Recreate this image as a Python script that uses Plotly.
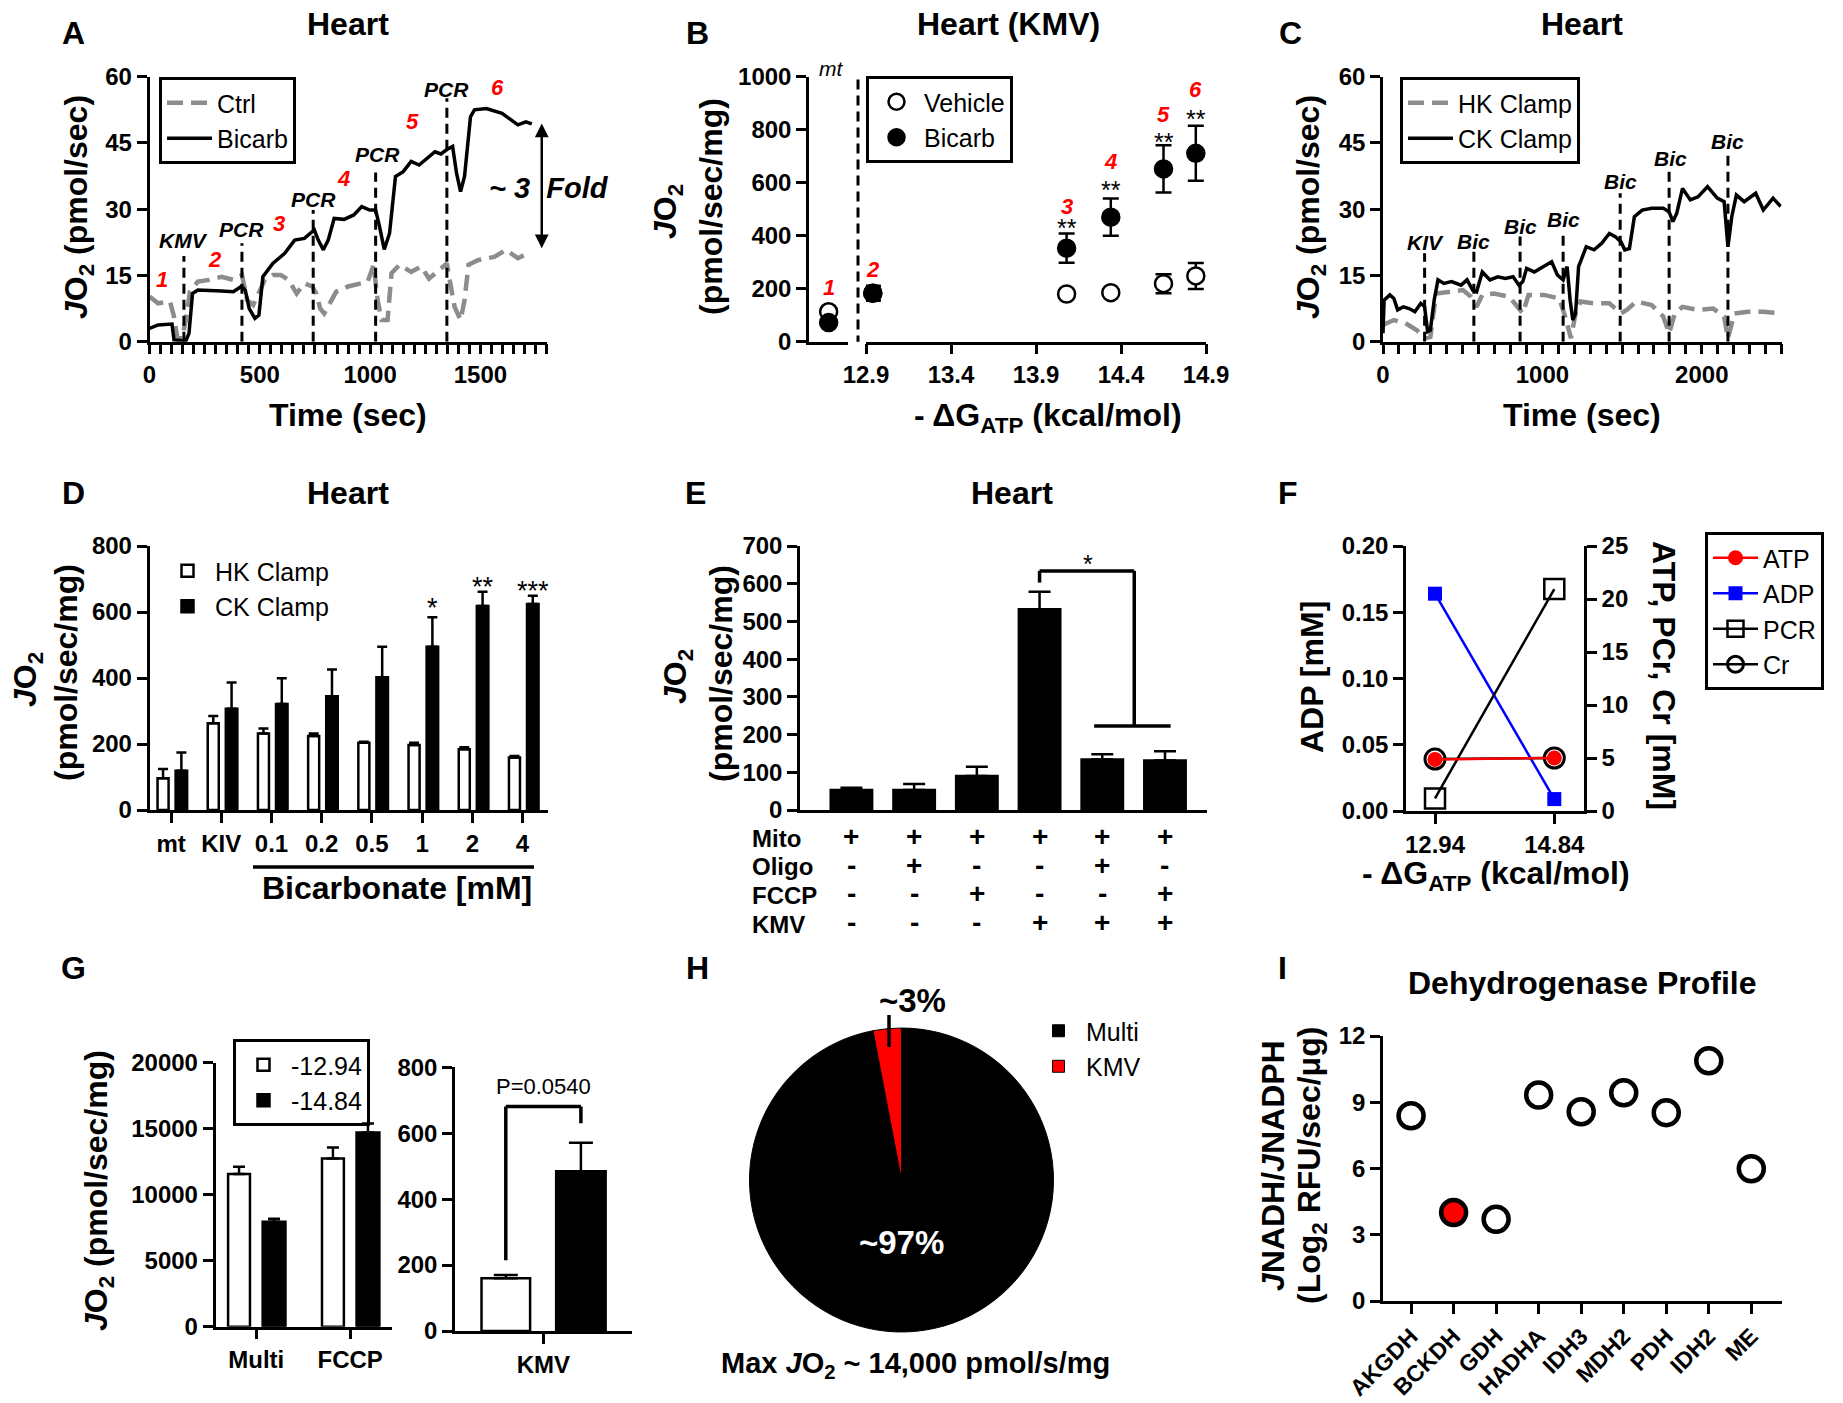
import plotly.graph_objects as go

W, H = 1843, 1403
FONT = "Arial, 'Liberation Sans', Helvetica, sans-serif"
GRAY = "#8c8c8c"


def px(x):
    return x / W


def py(y):
    return 1 - y / H


# ---------------- DATA ----------------
# A: oxygen flux traces (time in s, JO2 in pmol/s)
a_ctrl_t = [0, 39, 93, 111, 125, 147, 165, 183, 219, 272, 326, 380, 419, 443, 470, 496, 523, 559, 595, 631,
            667, 702, 738, 756, 774, 792, 819, 846, 900, 953, 989, 1016, 1034, 1052, 1079, 1097, 1133, 1186,
            1231, 1267, 1303, 1348, 1366, 1383, 1410, 1428, 1446, 1491, 1563, 1616, 1670, 1715]
a_ctrl = [10.2, 8.7, 9.1, 5.7, 1.1, 0.8, 4.9, 11.3, 13.6, 14.0, 14.7, 14.0, 15.1, 9.4, 8.3, 10.9, 14.0, 15.1,
          15.1, 14.0, 10.9, 13.2, 12.5, 10.9, 7.5, 6.4, 8.7, 11.3, 12.5, 13.2, 13.6, 17.4, 9.4, 4.9, 4.9, 15.5,
          17.4, 15.8, 17.0, 14.3, 15.8, 17.7, 12.5, 7.9, 4.9, 9.4, 17.4, 18.5, 19.2, 20.8, 18.9, 20.0]
a_bicarb_t = [0, 39, 102, 111, 165, 179, 195, 219, 326, 380, 416, 434, 452, 478, 496, 514, 559, 613, 658, 702,
              747, 765, 788, 810, 837, 882, 926, 962, 998, 1025, 1043, 1064, 1088, 1115, 1150, 1186, 1222, 1258,
              1294, 1321, 1348, 1374, 1392, 1410, 1428, 1455, 1473, 1527, 1598, 1670, 1706, 1733]
a_bicarb = [3.0, 3.8, 4.0, 0.4, 0.2, 1.9, 10.9, 11.7, 11.5, 11.3, 12.5, 11.7, 7.5, 5.3, 6.0, 14.7, 17.7, 20.0,
            23.0, 23.4, 25.3, 23.0, 20.8, 23.0, 27.9, 27.7, 28.7, 30.6, 29.8, 29.8, 26.0, 20.9, 24.5, 37.4, 38.5,
            40.8, 40.0, 41.5, 43.0, 42.5, 43.5, 44.2, 38.1, 34.0, 37.4, 50.9, 52.5, 52.8, 51.7, 49.1, 49.8, 49.3]
a_event_t = [156, 419, 742, 1025, 1348]
a_event_lbl = ["KMV", "PCR", "PCR", "PCR", "PCR"]
a_event_top = [19.4, 22.3, 29.8, 38.3, 55.1]
a_event_lbl_pos = [(156, 22.8), (419, 25.4), (742, 32.2), (1034, 42.4), (1348, 57.2)]
a_state_lbl = ["1", "2", "3", "4", "5", "6"]
a_state_pos = [(57, 14.0), (299, 18.5), (586, 26.8), (878, 37.0), (1190, 49.8), (1577, 57.6)]
a_fold = [20.8, 49.4]

# B: JO2 vs -dG_ATP
b_mt = ["mt"]
b_mt_vehicle = [113]
b_mt_bicarb = [72]
b_dg = [12.94, 14.08, 14.34, 14.65, 14.84]
b_vehicle = [183, 180, 185, 219, 248]
b_vehicle_sem = [25, 0, 0, 36, 49]
b_bicarb = [183, 353, 470, 652, 711]
b_bicarb_sem = [28, 55, 70, 89, 104]
b_state_lbl = ["2", "3", "4", "5", "6"]
b_state_y = [272, 510, 681, 858, 950]
b_sig = ["", "**", "**", "**", "**"]
b_sig_y = [0, 428, 572, 755, 841]

# C: HK vs CK clamp traces
c_ck_t = [0, 7, 43, 68, 92, 128, 164, 200, 237, 261, 280, 297, 321, 345, 382, 430, 490, 527, 563, 587, 623, 671,
          720, 768, 816, 853, 877, 901, 949, 1010, 1058, 1094, 1130, 1155, 1174, 1191, 1208, 1227, 1275, 1324, 1372,
          1420, 1457, 1493, 1517, 1546, 1577, 1626, 1686, 1758, 1795, 1819, 1843, 1879, 1928, 1976, 2036, 2097,
          2140, 2164, 2188, 2217, 2266, 2338, 2386, 2447, 2495]
c_ck = [1.9, 9.4, 10.6, 9.8, 7.2, 7.9, 7.5, 6.8, 8.7, 7.9, 2.3, 2.6, 9.4, 14.0, 13.2, 13.6, 12.8, 14.0, 11.7, 11.3,
        15.8, 14.0, 14.7, 14.3, 14.7, 12.8, 13.6, 16.6, 15.8, 17.0, 18.1, 15.1, 14.0, 17.0, 9.4, 4.9, 6.4, 17.0,
        21.5, 20.8, 22.3, 24.5, 23.8, 22.6, 20.8, 21.1, 28.3, 29.8, 30.2, 30.2, 29.4, 27.2, 29.1, 34.7, 32.1, 32.8,
        35.1, 32.5, 31.7, 21.5, 28.3, 33.2, 31.7, 33.6, 29.8, 32.5, 30.6]
c_hk_t = [0, 68, 140, 213, 261, 297, 333, 406, 502, 551, 587, 623, 696, 792, 841, 877, 913, 1010, 1106, 1143, 1179,
          1208, 1239, 1324, 1420, 1493, 1529, 1589, 1686, 1758, 1795, 1831, 1879, 1976, 2072, 2140, 2164, 2205,
          2290, 2386, 2495]
c_hk = [3.8, 4.9, 4.2, 2.6, 0.8, 1.1, 10.9, 11.3, 11.7, 10.2, 7.9, 10.6, 10.9, 10.2, 7.9, 6.4, 10.6, 10.6, 9.8,
        5.7, 0.8, 6.4, 9.1, 8.7, 8.7, 6.4, 7.2, 9.1, 8.3, 5.7, 1.9, 6.4, 7.9, 7.2, 7.5, 5.7, 0.8, 6.4, 6.8, 6.8,
        6.4]
c_event_t = [261, 570, 860, 1130, 1488, 1795, 2164]
c_event_lbl = ["KIV", "Bic", "Bic", "Bic", "Bic", "Bic", "Bic"]
c_event_top = [20.0, 20.4, 23.8, 24.2, 33.6, 38.9, 42.6]
c_event_lbl_pos = [(268, 22.5), (570, 22.7), (860, 26.1), (1130, 27.6), (1493, 36.3), (1802, 41.4), (2164, 45.4)]

# D: bicarbonate titration
d_cats = ["mt", "KIV", "0.1", "0.2", "0.5", "1", "2", "4"]
d_hk = [96, 263, 232, 224, 204, 197, 184, 159]
d_hk_sem = [28, 22, 15, 8, 3, 7, 6, 5]
d_ck = [119, 307, 321, 345, 402, 495, 618, 624]
d_ck_sem = [55, 79, 78, 81, 93, 89, 43, 25]
d_sig = ["", "", "", "", "", "*", "**", "***"]
d_sig_y = [0, 0, 0, 0, 0, 612, 675, 665]

# E: inhibitor conditions
e_vals = [53, 53, 90, 532, 134, 131]
e_sem = [6, 16, 25, 47, 14, 25]
e_rows = ["Mito", "Oligo", "FCCP", "KMV"]
e_mito = ["+", "+", "+", "+", "+", "+"]
e_oligo = ["-", "+", "-", "-", "+", "-"]
e_fccp = ["-", "-", "+", "-", "-", "+"]
e_kmv = ["-", "-", "-", "+", "+", "+"]

# F: metabolite concentrations
f_dg = [12.94, 14.84]
f_atp = [4.87, 5.0]
f_adp = [0.164, 0.009]
f_pcr = [1.19, 20.94]
f_cr = [4.9, 5.0]

# G: energetic clamps
g_cats = ["Multi", "FCCP"]
g_low = [11565, 12751]
g_low_sem = [555, 834]
g_high = [7954, 14720]
g_high_sem = [227, 683]
g_kmv_cat = ["KMV"]
g_kmv_low = [160]
g_kmv_low_sem = [10]
g_kmv_high = [485]
g_kmv_high_sem = [86]

# H: share of maximal JO2
h_labels = ["Multi", "KMV"]
h_vals = [97, 3]

# I: dehydrogenase profile
i_enz = ["AKGDH", "BCKDH", "GDH", "HADHA", "IDH3", "MDH2", "PDH", "IDH2", "ME"]
i_vals = [8.39, 4.01, 3.70, 9.33, 8.57, 9.43, 8.53, 10.88, 5.99]
i_highlight = "BCKDH"

# ---------------- FIGURE ----------------
fig = go.Figure()
annotations = []
shapes = []


def txt(text, x, y, size, bold=True, italic=False, color="black", xref="paper", yref="paper",
        angle=0, xanchor="center", yanchor="middle"):
    if xref == "paper":
        x = px(x)
    if yref == "paper":
        y = py(y)
    annotations.append(dict(text=text, x=x, y=y, xref=xref, yref=yref, showarrow=False, textangle=angle,
                            xanchor=xanchor, yanchor=yanchor,
                            font=dict(family=FONT, size=size, color=color,
                                      weight="bold" if bold else "normal",
                                      style="italic" if italic else "normal")))


def line_shape(x0, y0, x1, y1, xref, yref, width=3, dash=None):
    d = dict(type="line", x0=x0, y0=y0, x1=x1, y1=y1, xref=xref, yref=yref,
             line=dict(color="black", width=width))
    if dash:
        d["line"]["dash"] = dash
    shapes.append(d)


TICKFONT = dict(family=FONT, size=24, color="black", weight="bold")
TS = 32   # title size
AS = 32   # axis-title size


def axis(dom, anchor, **kw):
    d = dict(domain=dom, anchor=anchor, showline=True, linecolor="black", linewidth=2.5, ticks="outside",
             ticklen=10, tickwidth=2.5, tickcolor="black", showgrid=False, zeroline=False, tickfont=TICKFONT,
             fixedrange=True, automargin=False)
    d.update(kw)
    return d


EVT_DASH = "10px,6px"
GDASH = "16px,8px"
JO2 = "<i>J</i>O<sub>2</sub>"

# ----- A -----
fig.add_trace(go.Scatter(x=a_ctrl_t, y=a_ctrl, mode="lines", name="Ctrl",
                         line=dict(color=GRAY, width=4.5, dash=GDASH), xaxis="x", yaxis="y",
                         legend="legend", legendgroup="a1"))
fig.add_trace(go.Scatter(x=a_bicarb_t, y=a_bicarb, mode="lines", name="Bicarb",
                         line=dict(color="black", width=3.5), xaxis="x", yaxis="y",
                         legend="legend", legendgroup="a2"))
for t, top in zip(a_event_t, a_event_top):
    line_shape(t, 0, t, top, "x", "y", 3, EVT_DASH)
for lbl, (t, v) in zip(a_event_lbl, a_event_lbl_pos):
    txt(lbl, t, v, 21, True, True, xref="x", yref="y")
for lbl, (t, v) in zip(a_state_lbl, a_state_pos):
    txt(lbl, t, v, 22, True, True, color="red", xref="x", yref="y")
annotations.append(dict(x=1778, y=a_fold[1], ax=1778, ay=a_fold[0], xref="x", yref="y", axref="x", ayref="y",
                        text="", showarrow=True, arrowhead=2, arrowside="end+start", arrowsize=1.1,
                        arrowwidth=2.5, arrowcolor="black", standoff=0, startstandoff=0))
txt("~ 3  Fold", 549, 188, 29, True, True)

# ----- B -----
fig.add_trace(go.Scatter(x=b_mt, y=b_mt_vehicle, mode="markers", showlegend=False, cliponaxis=False,
                         marker=dict(symbol="circle", size=17, color="white", line=dict(color="black", width=2.5)),
                         xaxis="x2", yaxis="y2"))
fig.add_trace(go.Scatter(x=b_mt, y=b_mt_bicarb, mode="markers", showlegend=False, cliponaxis=False,
                         marker=dict(symbol="circle", size=17, color="black", line=dict(color="black", width=2.5)),
                         xaxis="x2", yaxis="y2"))
fig.add_trace(go.Scatter(x=b_dg, y=b_vehicle, mode="markers", name="Vehicle", cliponaxis=False,
                         marker=dict(symbol="circle", size=17, color="white", line=dict(color="black", width=2.5)),
                         error_y=dict(type="data", array=b_vehicle_sem, color="black", thickness=2.5, width=8),
                         xaxis="x3", yaxis="y2", legend="legend2", legendgroup="b1"))
fig.add_trace(go.Scatter(x=b_dg, y=b_bicarb, mode="markers", name="Bicarb", cliponaxis=False,
                         marker=dict(symbol="circle", size=17, color="black", line=dict(color="black", width=2.5)),
                         error_y=dict(type="data", array=b_bicarb_sem, color="black", thickness=2.5, width=8),
                         xaxis="x3", yaxis="y2", legend="legend2", legendgroup="b2"))
shapes.append(dict(type="line", xref="paper", yref="y2", x0=px(858), x1=px(858), y0=-14, y1=1000,
                   line=dict(color="black", width=3, dash=EVT_DASH)))
txt("mt", 831, 68, 21, False, True)
txt("1", 0, 206, 22, True, True, color="red", xref="x2", yref="y2")
for lbl, x, y in zip(b_state_lbl, b_dg, b_state_y):
    txt(lbl, x, y, 22, True, True, color="red", xref="x3", yref="y2")
for s, x, y in zip(b_sig, b_dg, b_sig_y):
    if s:
        txt(s, x, y, 25, False, xref="x3", yref="y2")

# ----- C -----
fig.add_trace(go.Scatter(x=c_hk_t, y=c_hk, mode="lines", name="HK Clamp",
                         line=dict(color=GRAY, width=4.5, dash=GDASH), xaxis="x4", yaxis="y4",
                         legend="legend3", legendgroup="c1"))
fig.add_trace(go.Scatter(x=c_ck_t, y=c_ck, mode="lines", name="CK Clamp",
                         line=dict(color="black", width=3.5), xaxis="x4", yaxis="y4",
                         legend="legend3", legendgroup="c2"))
for t, top in zip(c_event_t, c_event_top):
    line_shape(t, 0, t, top, "x4", "y4", 3, EVT_DASH)
for lbl, (t, v) in zip(c_event_lbl, c_event_lbl_pos):
    txt(lbl, t, v, 21, True, True, xref="x4", yref="y4")

# ----- D -----
nd = len(d_cats)
fig.add_trace(go.Bar(x=d_cats, y=d_hk, width=0.22, offset=-0.27, name="HK Clamp",
                     marker=dict(color="white", line=dict(color="black", width=2.5)),
                     error_y=dict(type="data", array=d_hk_sem, arrayminus=[0] * nd, symmetric=False,
                                  color="black", thickness=2.5, width=5),
                     xaxis="x5", yaxis="y5", legend="legend4", legendgroup="d1"))
fig.add_trace(go.Bar(x=d_cats, y=d_ck, width=0.23, offset=0.09, name="CK Clamp",
                     marker=dict(color="black", line=dict(color="black", width=2.5)),
                     error_y=dict(type="data", array=d_ck_sem, arrayminus=[0] * nd, symmetric=False,
                                  color="black", thickness=2.5, width=5),
                     xaxis="x5", yaxis="y5", legend="legend4", legendgroup="d2"))
for i, (s, y) in enumerate(zip(d_sig, d_sig_y)):
    if s:
        txt(s, i + 0.205, y, 27, False, xref="x5", yref="y5")
line_shape(px(253), py(867), px(534), py(867), "paper", "paper", 3.5)
txt("Bicarbonate [mM]", 397, 888, AS)

# ----- E -----
e_x = list(range(len(e_vals)))
fig.add_trace(go.Bar(x=e_x, y=e_vals, width=0.66, offset=-0.33, showlegend=False,
                     marker=dict(color="black", line=dict(color="black", width=2.5)),
                     error_y=dict(type="data", array=e_sem, arrayminus=[0] * len(e_vals), symmetric=False,
                                  color="black", thickness=2.5, width=11),
                     xaxis="x6", yaxis="y6"))
line_shape(3, 603, 3, 634, "x6", "y6", 3.5)
line_shape(3, 634, 4.51, 634, "x6", "y6", 3.5)
line_shape(4.51, 634, 4.51, 223, "x6", "y6", 3.5)
line_shape(3.87, 223, 5.09, 223, "x6", "y6", 3.5)
txt("*", 3.77, 652, 25, False, xref="x6", yref="y6")
row_y = [838, 867, 895, 924]
for name, signs, ry in zip(e_rows, [e_mito, e_oligo, e_fccp, e_kmv], row_y):
    txt(name, 750, ry, 24, True, xanchor="left")
    for i, s in enumerate(signs):
        txt(s, i, ry - 2, 28, True, xref="x6", yref="paper")

# ----- F -----
fig.add_trace(go.Scatter(x=f_dg, y=f_pcr, mode="lines+markers", name="PCR", legendrank=3,
                         line=dict(color="black", width=2.5), cliponaxis=False,
                         marker=dict(symbol="square-open", size=20, color="black", line=dict(width=2.5)),
                         xaxis="x7", yaxis="y8", legend="legend5", legendgroup="f3"))
fig.add_trace(go.Scatter(x=f_dg, y=f_cr, mode="lines+markers", name="Cr", legendrank=4,
                         line=dict(color="black", width=2.5), cliponaxis=False,
                         marker=dict(symbol="circle-open", size=20, color="black", line=dict(width=3)),
                         xaxis="x7", yaxis="y8", legend="legend5", legendgroup="f4"))
fig.add_trace(go.Scatter(x=f_dg, y=f_atp, mode="lines+markers", name="ATP", legendrank=1,
                         line=dict(color="red", width=2.5), cliponaxis=False,
                         marker=dict(symbol="circle", size=15, color="red"),
                         xaxis="x7", yaxis="y8", legend="legend5", legendgroup="f1"))
fig.add_trace(go.Scatter(x=f_dg, y=f_adp, mode="lines+markers", name="ADP", legendrank=2,
                         line=dict(color="blue", width=2.5), cliponaxis=False,
                         marker=dict(symbol="square", size=14, color="blue"),
                         xaxis="x7", yaxis="y7", legend="legend5", legendgroup="f2"))

# ----- G -----
ng = len(g_cats)
fig.add_trace(go.Bar(x=g_cats, y=g_low, width=0.233, offset=-0.30, name="-12.94",
                     marker=dict(color="white", line=dict(color="black", width=2.5)),
                     error_y=dict(type="data", array=g_low_sem, arrayminus=[0] * ng, symmetric=False,
                                  color="black", thickness=2.5, width=6),
                     xaxis="x9", yaxis="y9", legend="legend6", legendgroup="g1"))
fig.add_trace(go.Bar(x=g_cats, y=g_high, width=0.243, offset=0.068, name="-14.84",
                     marker=dict(color="black", line=dict(color="black", width=2.5)),
                     error_y=dict(type="data", array=g_high_sem, arrayminus=[0] * ng, symmetric=False,
                                  color="black", thickness=2.5, width=6),
                     xaxis="x9", yaxis="y9", legend="legend6", legendgroup="g2"))
g2_w_off, g2_w = -0.70, 0.55
g2_b_off, g2_b = 0.145, 0.56
fig.add_trace(go.Bar(x=g_kmv_cat, y=g_kmv_low, width=g2_w, offset=g2_w_off, showlegend=False,
                     marker=dict(color="white", line=dict(color="black", width=2.5)),
                     error_y=dict(type="data", array=g_kmv_low_sem, arrayminus=[0], symmetric=False,
                                  color="black", thickness=2.5, width=12),
                     xaxis="x10", yaxis="y10"))
fig.add_trace(go.Bar(x=g_kmv_cat, y=g_kmv_high, width=g2_b, offset=g2_b_off, showlegend=False,
                     marker=dict(color="black", line=dict(color="black", width=2.5)),
                     error_y=dict(type="data", array=g_kmv_high_sem, arrayminus=[0], symmetric=False,
                                  color="black", thickness=2.5, width=12),
                     xaxis="x10", yaxis="y10"))
gxl = g2_w_off + g2_w / 2
gxr = g2_b_off + g2_b / 2
line_shape(gxl, 215, gxl, 681, "x10", "y10", 3.5)
line_shape(gxl, 681, gxr, 681, "x10", "y10", 3.5)
line_shape(gxr, 681, gxr, 630, "x10", "y10", 3.5)
txt("P=0.0540", 0, 742, 22, False, xref="x10", yref="y10")

# ----- H -----
fig.add_trace(go.Pie(labels=h_labels, values=h_vals, sort=False, direction="clockwise", rotation=0,
                     textinfo="none", hoverinfo="label+percent",
                     marker=dict(colors=["black", "red"], line=dict(color="black", width=1)),
                     domain=dict(x=[px(749.5), px(1053.5)], y=[py(1332), py(1028)]),
                     legend="legend7", showlegend=True))
txt("~3%", 912, 1000, 33)
shapes.append(dict(type="line", xref="paper", yref="paper", x0=px(889), x1=px(889), y0=py(1015), y1=py(1047),
                   line=dict(color="black", width=3.5)))
txt("~97%", 901, 1242, 33, color="white")
txt("Max " + JO2 + " ~ 14,000 pmol/s/mg", 915, 1365, 29)

# ----- I -----
i_colors = ["red" if e == i_highlight else "white" for e in i_enz]
fig.add_trace(go.Scatter(x=i_enz, y=i_vals, mode="markers", showlegend=False, cliponaxis=False,
                         marker=dict(symbol="circle", size=25, color=i_colors, line=dict(color="black", width=4.5)),
                         xaxis="x11", yaxis="y11"))

# ----- titles / labels -----
for letter, x, y in [("A", 73, 33), ("B", 697, 33), ("C", 1290, 33), ("D", 73, 493), ("E", 695, 493),
                     ("F", 1288, 493), ("G", 73, 968), ("H", 697, 968), ("I", 1282, 968)]:
    txt(letter, x, y, 32)
for title, x, y in [("Heart", 348, 24), ("Heart (KMV)", 1008, 24), ("Heart", 1582, 24), ("Heart", 348, 493),
                    ("Heart", 1012, 493), ("Dehydrogenase Profile", 1582, 983)]:
    txt(title, x, y, TS)

# axis titles
txt(JO2 + " (pmol/sec)", 79, 207, AS, angle=-90)
txt("Time (sec)", 348, 415, AS)
txt(JO2, 667, 212, AS, angle=-90)
txt("(pmol/sec/mg)", 711, 207, AS, angle=-90)
txt("- ΔG<sub>ATP</sub> (kcal/mol)", 1048, 418, AS)
txt(JO2 + " (pmol/sec)", 1311, 207, AS, angle=-90)
txt("Time (sec)", 1582, 415, AS)
txt(JO2, 27, 680, AS, angle=-90)
txt("(pmol/sec/mg)", 66, 673, AS, angle=-90)
txt(JO2, 677, 677, AS, angle=-90)
txt("(pmol/sec/mg)", 721, 674, AS, angle=-90)
txt("ADP [mM]", 1312, 677, AS, angle=-90)
txt("ATP, PCr, Cr [mM]", 1664, 675, AS, angle=90)
txt("- ΔG<sub>ATP</sub> (kcal/mol)", 1496, 875, AS)
txt(JO2 + " (pmol/sec/mg)", 98, 1191, AS, angle=-90)
txt("<i>J</i>NADH/<i>J</i>NADPH", 1273, 1166, AS, angle=-90)
txt("(Log<sub>2</sub> RFU/sec/μg)", 1311, 1166, AS, angle=-90)

# ---------------- LAYOUT ----------------
LEGFONT = dict(family=FONT, size=25, color="black")


def legend(x, y, border=3, gap=5, itemwidth=45):
    return dict(x=px(x), y=py(y), xanchor="left", yanchor="top", bgcolor="rgba(255,255,255,0)",
                bordercolor="black", borderwidth=border, font=LEGFONT, tracegroupgap=gap,
                traceorder="normal", itemwidth=itemwidth)


minor_a = dict(dtick=50, ticks="outside", ticklen=10, tickwidth=2.5, tickcolor="black", showgrid=False)
minor_c = dict(dtick=100, ticks="outside", ticklen=10, tickwidth=2.5, tickcolor="black", showgrid=False)

fig.update_layout(
    width=W, height=H, margin=dict(l=0, r=0, t=0, b=0, pad=0, autoexpand=False),
    paper_bgcolor="white", plot_bgcolor="white",
    font=dict(family=FONT, color="black"), barmode="overlay", showlegend=True, hovermode=False,
    annotations=annotations, shapes=shapes,
    # A
    xaxis=axis([px(149.5), px(546.6)], "y", range=[0, 1800], tick0=0, dtick=500, minor=minor_a),
    yaxis=axis([py(341.7), py(76.7)], "x", range=[0, 60], dtick=15),
    # B
    xaxis2=axis([px(809), px(848.3)], "y2", type="category", range=[-0.5, 0.5], ticks="",
                showticklabels=False),
    xaxis3=axis([px(866), px(1206)], "y2", range=[12.9, 14.9], tickvals=[12.9, 13.4, 13.9, 14.4, 14.9],
                ticktext=["12.9", "13.4", "13.9", "14.4", "14.9"]),
    yaxis2=axis([py(341.7), py(76.7)], "x2", range=[0, 1000], dtick=200),
    # C
    xaxis4=axis([px(1383), px(1781.5)], "y4", range=[0, 2500], tick0=0, dtick=1000, minor=minor_c),
    yaxis4=axis([py(341.7), py(76.7)], "x4", range=[0, 60], dtick=15),
    # D
    xaxis5=axis([px(149.5), px(547.6)], "y5", type="category", range=[-0.43, 7.5]),
    yaxis5=axis([py(810), py(546)], "x5", range=[0, 800], dtick=200),
    # E
    xaxis6=axis([px(800), px(1207)], "y6", range=[-0.82, 5.67], ticks="", showticklabels=False),
    yaxis6=axis([py(810), py(546)], "x6", range=[0, 700], dtick=100),
    # F
    xaxis7=axis([px(1406), px(1584)], "y7", range=[12.478, 15.313], tickvals=f_dg,
                ticktext=["12.94", "14.84"]),
    yaxis7=axis([py(811), py(546)], "x7", range=[0, 0.2], dtick=0.05, tickformat=".2f"),
    yaxis8=axis([py(811), py(546)], "x7", range=[0, 25], dtick=5, overlaying="y7", side="right"),
    # G
    xaxis9=axis([px(215.5), px(391.5)], "y9", type="category", range=[-0.434, 1.44]),
    yaxis9=axis([py(1326.7), py(1062.7)], "x9", range=[0, 20000], dtick=5000, tickformat="d"),
    xaxis10=axis([px(455), px(631.7)], "y10", type="category", range=[-1, 1]),
    yaxis10=axis([py(1331), py(1067.3)], "x10", range=[0, 800], dtick=200),
    # I
    xaxis11=axis([px(1383), px(1781.5)], "y11", type="category", range=[-0.66, 8.71], tickangle=-45,
                 tickfont=dict(family=FONT, size=23, color="black", weight="bold")),
    yaxis11=axis([py(1301), py(1036)], "x11", range=[0, 12], dtick=3),
    legend=legend(159, 77),
    legend2=legend(866, 76, gap=0),
    legend3=legend(1400, 77),
    legend4=legend(160, 548, border=0),
    legend5=legend(1705, 532),
    legend6=legend(233, 1039),
    legend7=legend(1031, 1008, border=0),
)

fig.write_html("out.html", config={"displayModeBar": False},
               post_script="document.body.style.margin='0px';")
